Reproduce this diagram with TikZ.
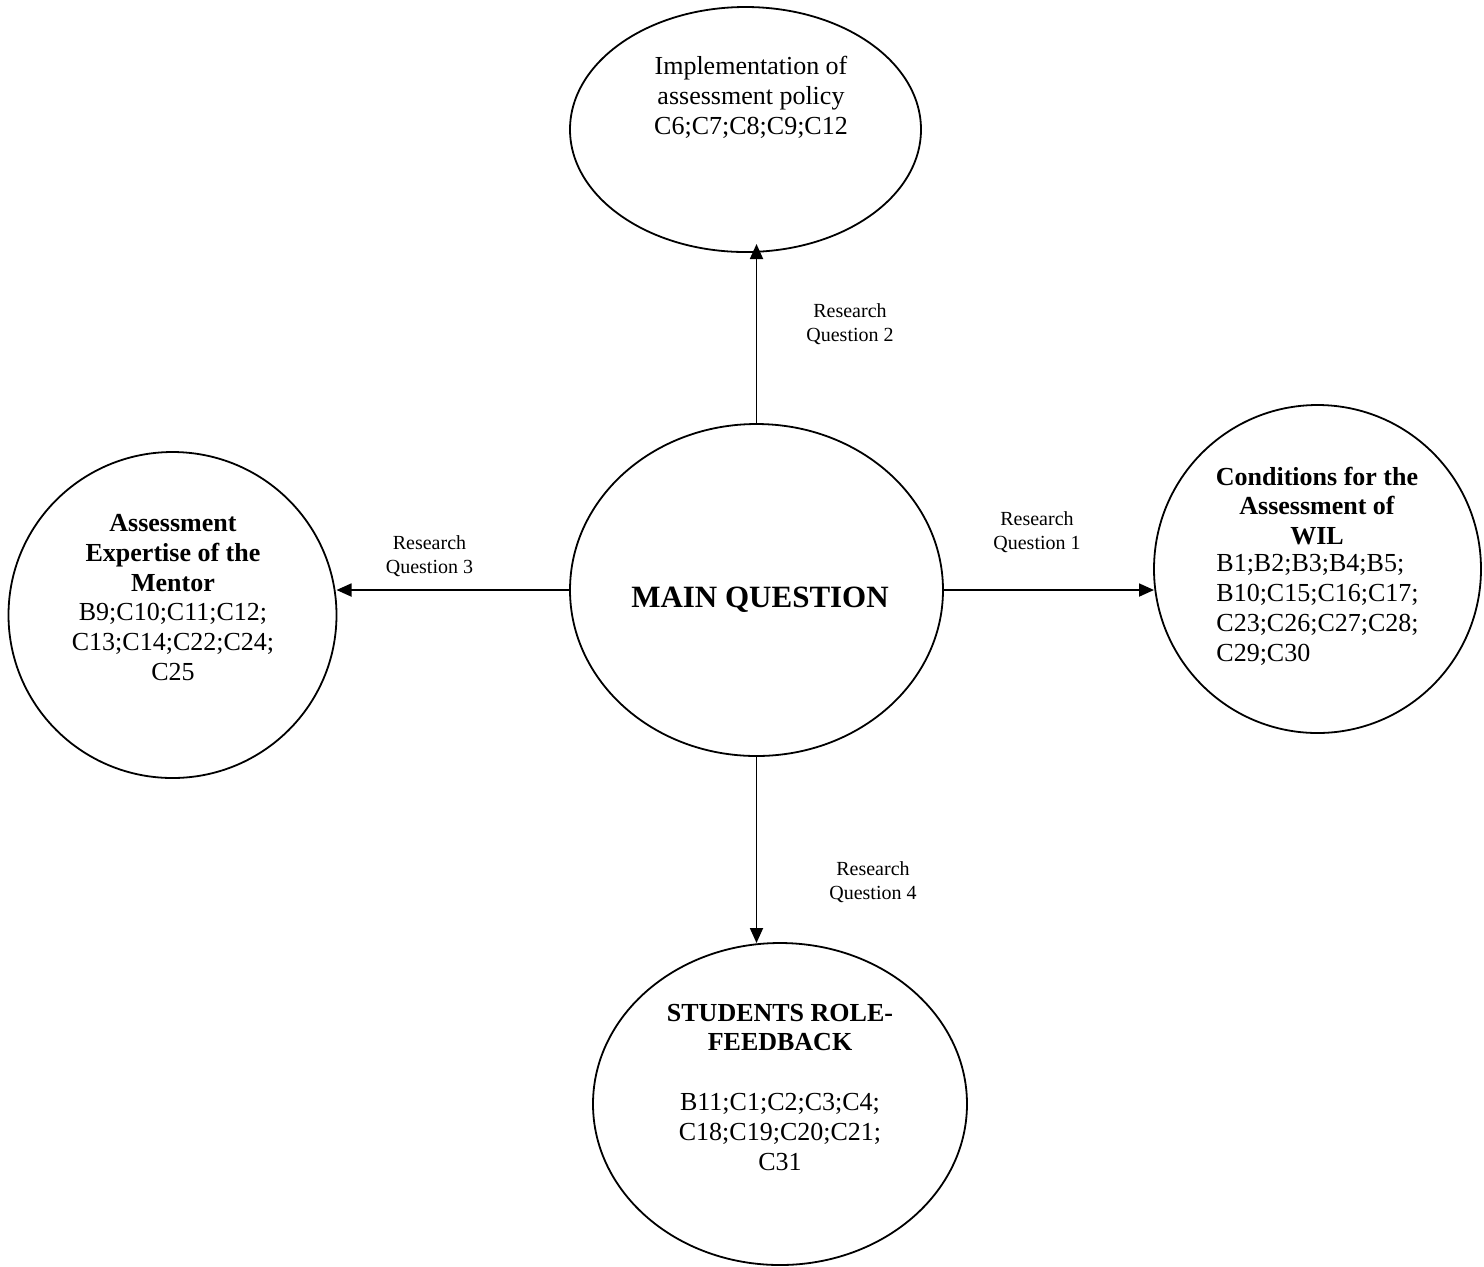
\documentclass[tikz,border=0pt]{standalone}
\usepackage{fontspec}
\setmainfont{Liberation Serif}
\usetikzlibrary{arrows.meta,shapes.geometric}
\begin{document}
\begin{tikzpicture}[x=0.5pt,y=-0.5pt,
  bubble/.style={draw,line width=0.9pt,ellipse,inner sep=0pt,outer sep=0pt},
  body/.style={font=\fontsize{13}{14.9}\selectfont,align=center,inner sep=0pt},
  heading/.style={body,font=\fontsize{13}{14.9}\selectfont\bfseries},
  rq/.style={font=\fontsize{10}{12}\selectfont,align=center,inner sep=0pt},
  link/.style={line width=0.9pt,-{Triangle[length=7.5pt,width=6.5pt]}}]
\useasboundingbox (0,0) rectangle (1484,1266);

% theme bubbles
\node[bubble,minimum width=175.5pt,minimum height=122.5pt] (policy)   at (745.5,129.5) {};
\node[bubble,minimum width=186.5pt,minimum height=166pt]   (main)     at (756.5,590)   {};
\node[bubble,minimum width=164pt,minimum height=163pt]     (mentor)   at (172.5,615)   {};
\node[bubble,minimum width=163.5pt,minimum height=164pt]   (wil)      at (1317.5,569)  {};
\node[bubble,minimum width=187pt,minimum height=161pt]     (students) at (780,1104)    {};

% bubble texts
\node[body] (policyText) at (751,97.5)
  {Implementation of\\assessment policy\\C6;C7;C8;C9;C12};
\node[body,font=\fontsize{15.5}{18}\selectfont\bfseries] (mainText) at (760,600)
  {MAIN QUESTION};
\node[body] (mentorText) at (173,597.5)
  {\textbf{Assessment}\\\textbf{Expertise of the}\\\textbf{Mentor}\\B9;C10;C11;C12;\\C13;C14;C22;C24;\\C25};
\node[heading] (wilHead) at (1317,506)
  {Conditions for the\\Assessment of\\WIL};
\node[body,align=left,anchor=west] (wilCodes) at (1216,610)
  {B1;B2;B3;B4;B5;\\B10;C15;C16;C17;\\C23;C26;C27;C28;\\C29;C30};
\node[body] (studentsText) at (780,1087)
  {\textbf{STUDENTS ROLE-}\\\textbf{FEEDBACK}\\[14.9pt]B11;C1;C2;C3;C4;\\C18;C19;C20;C21;\\C31};

% connector labels
\node[rq] (rq2) at (850,324)   {Research\\Question 2};
\node[rq] (rq1) at (1037,532)  {Research\\Question 1};
\node[rq] (rq3) at (429.5,556) {Research\\Question 3};
\node[rq] (rq4) at (873,882)   {Research\\Question 4};

% connectors
\draw[link,shorten >=-4pt] (main.north) -- (main.north |- policy.south);
\draw[link] (main.east)  -- (main.east -| wil.west);
\draw[link] (main.west)  -- (main.west -| mentor.east);
\draw[link] (main.south) -- (main.south |- students.north);
\end{tikzpicture}
\end{document}
